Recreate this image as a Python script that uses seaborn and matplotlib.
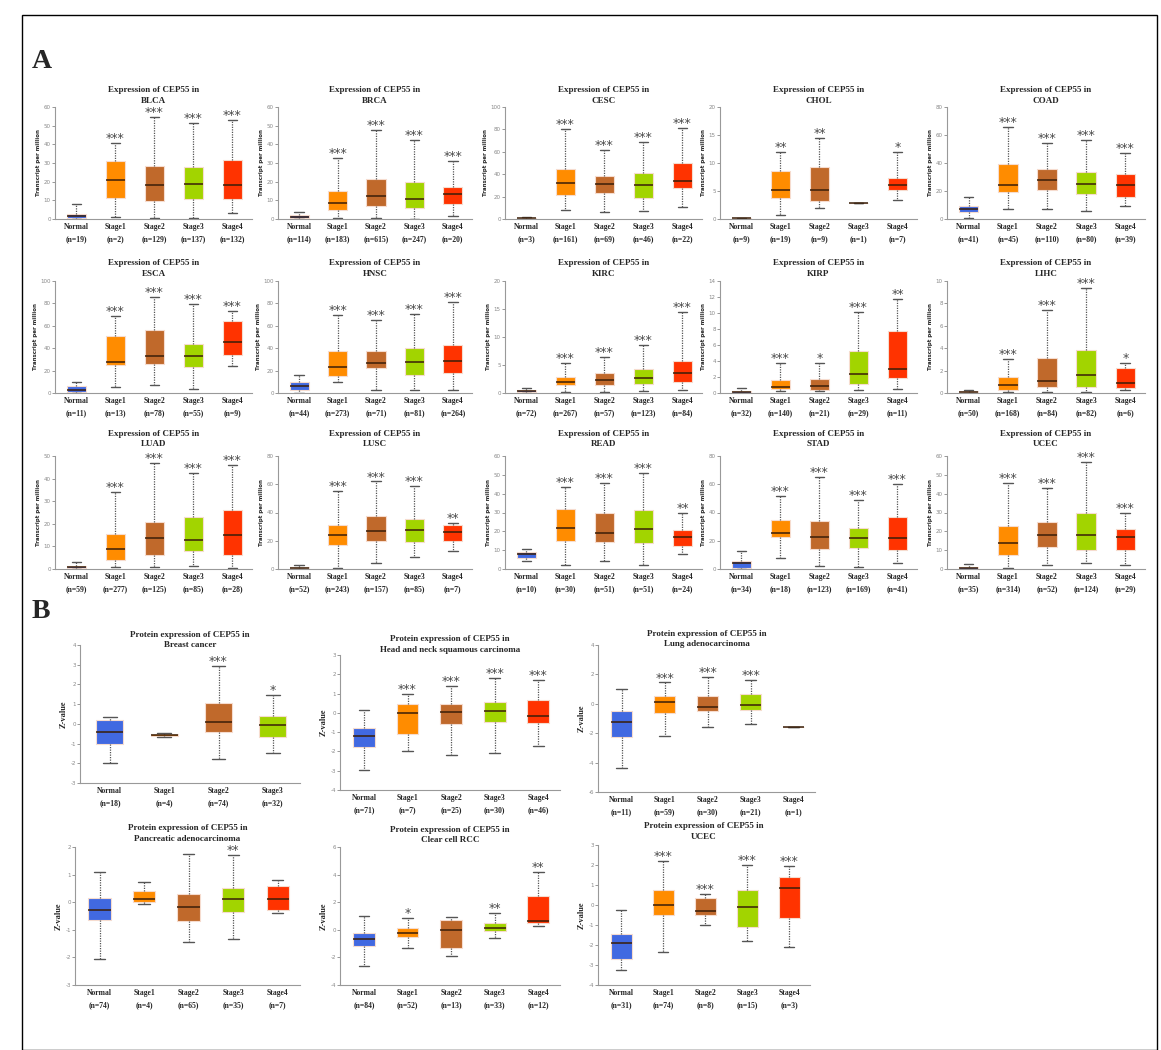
import pandas as pd
import seaborn as sns
import matplotlib.pyplot as plt
from matplotlib.patches import Rectangle

# ---- data: box stats per group = [min, q1, median, q3, max] ----
groups5 = ['Normal', 'Stage1', 'Stage2', 'Stage3', 'Stage4']
groups4 = ['Normal', 'Stage1', 'Stage2', 'Stage3']

# Panel A (TPM)
blca_n = [19, 2, 129, 137, 132]
blca_box = [[0, 0.5, 1.5, 2.5, 8], [1, 11, 21, 31, 40.5], [0.5, 9.5, 18, 28.5, 54.5],
            [0.5, 10.5, 18.5, 28, 51.5], [3, 10.5, 18, 31.5, 53]]
blca_sig = ['', '***', '***', '***', '***']

brca_n = [114, 183, 615, 247, 20]
brca_box = [[0, 0.5, 1, 2, 4], [0.5, 5, 8.5, 15, 32.5], [0.5, 7, 12.5, 21.5, 47.5],
            [0.2, 6, 10.5, 20, 42.5], [1.5, 8, 13.5, 17, 31]]
brca_sig = ['', '***', '***', '***', '***']

cesc_n = [3, 161, 69, 46, 22]
cesc_box = [[0, 0.3, 0.5, 1, 1.5], [8, 21, 32, 44.5, 80], [6, 23, 31, 38.5, 62],
            [7.5, 18.5, 30, 41, 68.5], [11, 27.5, 34, 50, 81.5]]
cesc_sig = ['', '***', '***', '***', '***']

chol_n = [9, 19, 9, 1, 7]
chol_box = [[0, 0.05, 0.1, 0.15, 0.2], [0.8, 3.7, 5.2, 8.6, 12], [2, 3.2, 5.2, 9.3, 14.4],
            [2.9, 2.9, 2.9, 2.9, 2.9], [3.4, 5.2, 6, 7.3, 12]]
chol_sig = ['', '**', '**', '', '*']

coad_n = [41, 45, 110, 80, 39]
coad_box = [[1, 5, 7, 9, 16], [7, 19.5, 24.5, 39, 66], [7.5, 20.5, 28, 36, 54],
            [5.5, 18, 25, 33.5, 56.5], [9, 15.5, 24, 32.5, 47]]
coad_sig = ['', '***', '***', '***', '***']

esca_n = [11, 13, 78, 55, 9]
esca_box = [[0, 0.5, 2.5, 6.5, 10], [5, 25, 27.5, 50.5, 69], [7, 25.5, 33, 56, 86],
            [4, 23, 33, 43.5, 79.5], [24, 34, 45.5, 64.5, 73]]
esca_sig = ['', '***', '***', '***', '***']

hnsc_n = [44, 273, 71, 81, 264]
hnsc_box = [[0, 3, 6.5, 9.5, 16], [9.5, 15, 23.5, 37.5, 70], [2.5, 22, 27, 37.5, 65.5],
            [2.5, 16, 28, 40.5, 70.5], [2.5, 18, 29, 43, 81.5]]
hnsc_sig = ['', '***', '***', '***', '***']

kirc_n = [72, 267, 57, 123, 84]
kirc_box = [[0, 0.2, 0.3, 0.6, 0.9], [0.2, 1.4, 2, 2.8, 5.3], [0.2, 1.5, 2.4, 3.6, 6.5],
            [0.4, 1.6, 2.6, 4.2, 8.6], [0.6, 2, 3.6, 5.7, 14.4]]
kirc_sig = ['', '***', '***', '***', '***']

kirp_n = [32, 140, 21, 29, 11]
kirp_box = [[0, 0.05, 0.15, 0.3, 0.6], [0.2, 0.5, 0.8, 1.6, 3.7], [0.3, 0.4, 0.9, 1.8, 3.7],
            [0.4, 1.1, 2.4, 5.2, 10.1], [0.5, 1.9, 3, 7.8, 11.8]]
kirp_sig = ['', '***', '*', '***', '**']

lihc_n = [50, 168, 84, 82, 6]
lihc_box = [[0, 0.05, 0.1, 0.15, 0.3], [0.1, 0.3, 0.75, 1.4, 3], [0.1, 0.5, 1.1, 3.1, 7.4],
            [0.1, 0.55, 1.65, 3.8, 9.4], [0.25, 0.45, 0.9, 2.2, 2.7]]
lihc_sig = ['', '***', '***', '***', '*']

luad_n = [59, 277, 125, 85, 28]
luad_box = [[0, 0.3, 1, 1.5, 3], [1, 4, 9, 15.5, 34], [1, 6, 13.5, 21, 47],
            [1.5, 8, 13, 23, 42.5], [0.5, 6, 15, 26, 46]]
luad_sig = ['', '***', '***', '***', '***']

lusc_n = [52, 243, 157, 85, 7]
lusc_box = [[0, 0.5, 1, 1.5, 3], [0.5, 17, 24, 31.5, 55], [4, 20, 27, 37.5, 62],
            [8.5, 19, 27.5, 35.5, 58.5], [12.5, 19.5, 26, 31.5, 32.5]]
lusc_sig = ['', '***', '***', '***', '**']

read_n = [10, 30, 51, 51, 24]
read_box = [[4, 6, 8, 9, 10.5], [2, 15, 22, 32, 43.5], [4, 14.5, 19, 30, 45.5],
            [2, 14, 21, 31.5, 51], [8, 12, 17, 20.5, 30]]
read_sig = ['', '***', '***', '***', '**']

stad_n = [34, 18, 123, 169, 41]
stad_box = [[0, 1, 4, 6, 13], [8, 22.5, 25.5, 34.5, 52], [2, 14, 22.5, 34, 65],
            [1.5, 15, 22, 29, 49], [4.5, 13.5, 22, 36.5, 60]]
stad_sig = ['', '***', '***', '***', '***']

ucec_n = [35, 314, 52, 124, 29]
ucec_box = [[0, 0.2, 0.5, 1, 2.5], [0.5, 7.5, 14, 23, 45.5], [2, 11.5, 18, 25, 43],
            [3, 10, 18, 30, 57], [2, 10, 17, 21, 30]]
ucec_sig = ['', '***', '***', '***', '***']

# Panel B (protein Z-value)
pbrca_n = [18, 4, 74, 32]
pbrca_box = [[-2, -1, -0.4, 0.2, 0.35], [-0.65, -0.62, -0.58, -0.5, -0.45],
             [-1.8, -0.4, 0.1, 1.05, 2.95], [-1.5, -0.65, -0.05, 0.4, 1.45]]
pbrca_sig = ['', '', '***', '*']

phnsc_n = [71, 7, 25, 30, 46]
phnsc_box = [[-2.95, -1.75, -1.2, -0.8, 0.15], [-2, -1.1, 0, 0.45, 1], [-2.2, -0.6, 0.05, 0.45, 1.4],
             [-2.1, -0.45, 0.1, 0.55, 1.8], [-1.7, -0.5, -0.15, 0.65, 1.7]]
phnsc_sig = ['', '***', '***', '***', '***']

pluad_n = [11, 59, 30, 21, 1]
pluad_box = [[-4.4, -2.25, -1.25, -0.5, 1], [-2.2, -0.65, 0.1, 0.55, 1.45], [-1.6, -0.5, -0.2, 0.55, 1.8],
             [-1.35, -0.4, -0.05, 0.7, 1.65], [-1.55, -1.55, -1.55, -1.55, -1.55]]
pluad_sig = ['', '***', '***', '***', '']

ppaad_n = [74, 4, 65, 35, 7]
ppaad_box = [[-2.05, -0.65, -0.3, 0.15, 1.1], [-0.05, 0.02, 0.12, 0.42, 0.72], [-1.45, -0.68, -0.18, 0.3, 1.75],
             [-1.35, -0.35, 0.1, 0.52, 1.72], [-0.4, -0.3, 0.12, 0.6, 0.82]]
ppaad_sig = ['', '', '', '**', '']

prcc_n = [84, 52, 13, 33, 12]
prcc_box = [[-2.6, -1.15, -0.65, -0.2, 1], [-1.3, -0.55, -0.2, 0.1, 0.85], [-1.9, -1.3, 0, 0.7, 0.9],
            [-0.6, -0.1, 0.1, 0.5, 1.2], [0.3, 0.5, 0.65, 2.45, 4.2]]
prcc_sig = ['', '*', '', '**', '**']

pucec_n = [31, 74, 8, 15, 3]
pucec_box = [[-3.25, -2.7, -1.9, -1.45, -0.25], [-2.35, -0.5, 0, 0.75, 2.2], [-1, -0.5, -0.3, 0.35, 0.55],
             [-1.8, -1.1, -0.1, 0.75, 2], [-2.1, -0.65, 0.85, 1.4, 1.95]]
pucec_sig = ['', '***', '***', '***', '***']

colors = ['#4169E1', '#FF8C00', '#C0692B', '#A2D400', '#FF3300']

sns.set_style('ticks')
plt.rcParams['font.family'] = ['Liberation Serif', 'DejaVu Sans']

W, H = 1161, 1050
fig = plt.figure(figsize=(W / 100, H / 100), dpi=100)


def rect(x0, x1, ytop, ybot):
    return [x0 / W, 1 - ybot / H, (x1 - x0) / W, (ybot - ytop) / H]


def draw(pos, title, groups, n, box, sig, ylim, ystep, ylabel, title_y=1.0):
    ax = fig.add_axes(rect(*pos))
    labels = [f'{g}\n(n={k})' for g, k in zip(groups, n)]
    df = pd.DataFrame({
        'group': [lab for lab, b in zip(labels, box) for _ in b],
        'value': [v for b in box for v in b],
    })
    sns.boxplot(data=df, x='group', y='value', hue='group', order=labels,
                palette=colors[:len(groups)], saturation=1, whis=(0, 100), width=0.5,
                legend=False, ax=ax, linewidth=0.9,
                boxprops=dict(edgecolor='#F6DCCF', linewidth=0.8),
                medianprops=dict(color='#3A1E08', linewidth=1.1),
                whiskerprops=dict(color='#555555', linestyle=(0, (1, 1)), linewidth=0.9),
                capprops=dict(color='#555555', linewidth=1.0))
    for i, (s, b) in enumerate(zip(sig, box)):
        if s:
            ax.annotate(s, (i, b[4]), xytext=(0, -1.5), textcoords='offset points',
                        ha='center', va='bottom', fontsize=9, color='#4a4a4a',
                        family='DejaVu Sans')
    ax.set_ylim(*ylim)
    ax.set_xlim(-0.55, len(groups) - 0.5)
    ticks = []
    t = ylim[0]
    while t <= ylim[1] + 1e-9:
        ticks.append(t)
        t += ystep
    ax.set_yticks(ticks)
    ax.set_yticklabels([f'{v:g}' for v in ticks], fontsize=4, color='#888888',
                       family='DejaVu Sans')
    ax.tick_params(axis='y', length=2, width=0.6, color='#888888', pad=1)
    ax.tick_params(axis='x', length=0, labelsize=5.5, pad=3)
    for lab in ax.get_xticklabels():
        lab.set_fontweight('bold')
        lab.set_linespacing(1.6)
    ax.set_xlabel('')
    if ylabel == 'Z-value':
        ax.set_ylabel(ylabel, fontsize=6, fontweight='bold', labelpad=2)
    else:
        ax.set_ylabel(ylabel, fontsize=4, fontweight='bold', family='DejaVu Sans', labelpad=2)
    sns.despine(ax=ax)
    for sp in ['left', 'bottom']:
        ax.spines[sp].set_color('#999999')
        ax.spines[sp].set_linewidth(0.8)
    ax.text(0.5, title_y, title, transform=ax.transAxes, ha='center', va='bottom',
            fontsize=6.5, fontweight='bold', linespacing=1.4)
    return ax


tpm = 'Transcript per million'
rowsA = [(107, 219), (281, 393), (456, 569)]
rows_title_y = [1.02, 1.03, 1.07]
colsA = [(55, 252), (278, 472), (505, 702), (720, 917), (947, 1145)]

panelsA = [
    ('BLCA', blca_n, blca_box, blca_sig, (0, 60), 10),
    ('BRCA', brca_n, brca_box, brca_sig, (0, 60), 10),
    ('CESC', cesc_n, cesc_box, cesc_sig, (0, 100), 20),
    ('CHOL', chol_n, chol_box, chol_sig, (0, 20), 5),
    ('COAD', coad_n, coad_box, coad_sig, (0, 80), 20),
    ('ESCA', esca_n, esca_box, esca_sig, (0, 100), 20),
    ('HNSC', hnsc_n, hnsc_box, hnsc_sig, (0, 100), 20),
    ('KIRC', kirc_n, kirc_box, kirc_sig, (0, 20), 5),
    ('KIRP', kirp_n, kirp_box, kirp_sig, (0, 14), 2),
    ('LIHC', lihc_n, lihc_box, lihc_sig, (0, 10), 2),
    ('LUAD', luad_n, luad_box, luad_sig, (0, 50), 10),
    ('LUSC', lusc_n, lusc_box, lusc_sig, (0, 80), 20),
    ('READ', read_n, read_box, read_sig, (0, 60), 10),
    ('STAD', stad_n, stad_box, stad_sig, (0, 80), 20),
    ('UCEC', ucec_n, ucec_box, ucec_sig, (0, 60), 10),
]
for k, (name, n, box, sig, ylim, step) in enumerate(panelsA):
    r, c = divmod(k, 5)
    pos = (colsA[c][0], colsA[c][1], rowsA[r][0], rowsA[r][1])
    draw(pos, f'Expression of CEP55 in\n{name}', groups5, n, box, sig, ylim, step, tpm,
         rows_title_y[r])

panelsB = [
    ((80, 300, 645, 783), 'Breast cancer', groups4, pbrca_n, pbrca_box, pbrca_sig, (-3, 4), 0.97),
    ((340, 560, 655, 790), 'Head and neck squamous carcinoma', groups5, phnsc_n, phnsc_box, phnsc_sig, (-4, 3), 1.01),
    ((598, 815, 645, 792), 'Lung adenocarcinoma', groups5, pluad_n, pluad_box, pluad_sig, (-6, 4), 0.98),
    ((75, 300, 847, 985), 'Pancreatic adenocarcinoma', groups5, ppaad_n, ppaad_box, ppaad_sig, (-3, 2), 1.03),
    ((340, 560, 847, 985), 'Clear cell RCC', groups5, prcc_n, prcc_box, prcc_sig, (-4, 6), 1.02),
    ((598, 810, 845, 985), 'UCEC', groups5, pucec_n, pucec_box, pucec_sig, (-4, 3), 1.03),
]
for pos, name, grp, n, box, sig, ylim, ty in panelsB:
    step = 2 if ylim[1] - ylim[0] >= 10 else 1
    draw(pos, f'Protein expression of CEP55 in\n{name}', grp, n, box, sig, ylim, step, 'Z-value', ty)

fig.text(32 / W, 1 - 62 / H, 'A', fontsize=20, fontweight='bold', va='center')
fig.text(32 / W, 1 - 612 / H, 'B', fontsize=20, fontweight='bold', va='center')
fig.add_artist(Rectangle((22 / W, 0), (1157 - 22) / W, 1 - 15 / H, transform=fig.transFigure,
                         fill=False, edgecolor='black', linewidth=1))

fig.savefig('out.png', dpi=100)
